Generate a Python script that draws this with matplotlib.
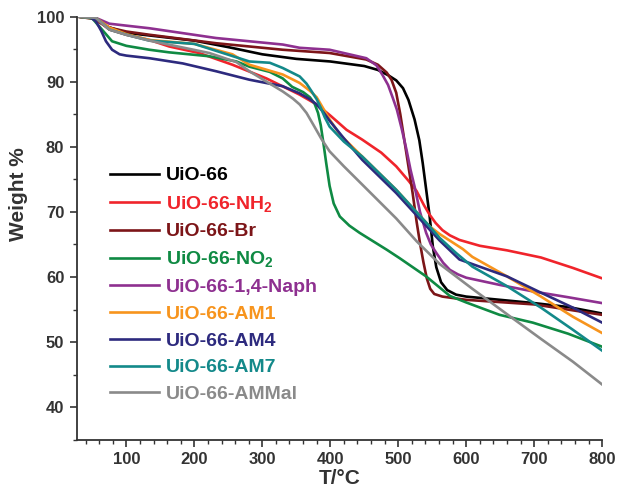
import matplotlib
matplotlib.use("Agg")
import matplotlib.pyplot as plt
from matplotlib.ticker import MultipleLocator

# Temperatures (deg C) and weight (%), one pair per sample
labels = ["UiO-66", "UiO-66-NH$_2$", "UiO-66-Br", "UiO-66-NO$_2$", "UiO-66-1,4-Naph",
          "UiO-66-AM1", "UiO-66-AM4", "UiO-66-AM7", "UiO-66-AMMal"]

t_uio66 = [27, 50, 70, 100, 150, 200, 250, 300, 350, 400, 450, 470, 485, 497, 507, 515,
           524, 531, 536, 541, 546, 551, 556, 563, 572, 585, 600, 650, 700, 750, 800]
w_uio66 = [100, 99.8, 98.5, 97.5, 96.9, 96.3, 95.3, 94.2, 93.5, 93.1, 92.4, 91.8, 91.0,
           90.2, 89.0, 87.2, 84.2, 81.0, 77.5, 73.5, 69.5, 64.6, 61.5, 59.2, 58.0, 57.3,
           57.0, 56.5, 56.0, 55.4, 54.4]

t_nh2 = [27, 55, 75, 100, 134, 163, 207, 256, 306, 355, 380, 400, 424, 447, 475, 497,
         515, 527, 538, 546, 555, 565, 576, 590, 620, 660, 710, 757, 800]
w_nh2 = [100, 99.6, 98.0, 97.2, 96.4, 95.4, 94.4, 92.6, 90.5, 88.0, 86.5, 84.8, 82.6,
         81.1, 79.1, 77.0, 74.8, 73.2, 71.0, 69.6, 68.3, 67.2, 66.4, 65.7, 64.8, 64.1,
         63.0, 61.4, 59.8]

t_br = [27, 55, 75, 100, 134, 232, 330, 399, 453, 470, 483, 490, 497, 503, 509, 515,
        521, 527, 532, 537, 542, 547, 553, 565, 600, 700, 800]
w_br = [100, 99.7, 98.3, 97.7, 97.2, 95.9, 94.9, 94.4, 93.4, 92.6, 91.4, 90.3, 88.3,
        85.0, 81.0, 77.0, 73.0, 68.5, 65.2, 62.3, 59.8, 58.2, 57.4, 57.0, 56.5, 55.8, 54.2]

t_no2 = [27, 50, 79, 100, 134, 163, 222, 262, 281, 311, 330, 344, 360, 370, 377, 382,
         386, 390, 394, 399, 405, 414, 428, 443, 463, 483, 502, 541, 576, 600, 649, 698,
         750, 800]
w_no2 = [100, 99.7, 96.2, 95.5, 94.9, 94.5, 93.9, 93.1, 92.3, 91.5, 90.5, 89.2, 88.4,
         87.6, 86.6, 85.2, 83.3, 80.5, 77.5, 74.0, 71.3, 69.3, 67.9, 66.8, 65.5, 64.2,
         62.9, 60.1, 57.1, 56.1, 54.2, 53.0, 51.3, 49.3]

t_naph = [27, 55, 75, 100, 134, 232, 330, 355, 399, 453, 468, 477, 485, 492, 498, 505,
          512, 518, 524, 532, 541, 548, 556, 566, 576, 588, 600, 649, 698, 750, 800]
w_naph = [100, 99.8, 98.9, 98.6, 98.2, 96.7, 95.7, 95.2, 94.9, 93.6, 92.5, 91.0, 89.5,
          87.5, 85.7, 82.8, 79.6, 76.5, 73.9, 70.0, 66.8, 65.0, 63.7, 62.2, 61.1, 60.4,
          59.9, 58.8, 57.8, 56.9, 56.0]

t_am1 = [27, 55, 75, 100, 134, 200, 256, 281, 330, 355, 370, 380, 389, 399, 414, 447,
         497, 546, 561, 595, 609, 660, 710, 757, 800]
w_am1 = [100, 99.8, 98.3, 97.3, 96.4, 95.8, 94.2, 92.6, 91.1, 89.8, 88.6, 87.6, 86.0,
         84.2, 81.9, 78.5, 73.4, 67.8, 66.6, 64.3, 63.1, 60.1, 57.0, 53.9, 51.4]

t_am4 = [27, 45, 55, 63, 70, 79, 90, 100, 134, 183, 232, 281, 330, 355, 370, 380, 390,
         399, 420, 447, 497, 546, 561, 590, 660, 710, 757, 800]
w_am4 = [100, 100, 99.3, 97.8, 96.2, 94.9, 94.2, 94.0, 93.6, 92.8, 91.6, 90.3, 89.3,
         88.2, 87.3, 86.5, 85.3, 84.0, 81.3, 78.0, 72.9, 67.3, 65.6, 62.7, 60.1, 57.6,
         55.3, 53.0]

t_am7 = [27, 55, 75, 100, 134, 200, 281, 311, 330, 355, 365, 372, 380, 386, 392, 399,
         420, 447, 497, 546, 561, 585, 609, 660, 710, 757, 800]
w_am7 = [100, 99.8, 98.0, 97.2, 96.3, 95.8, 93.1, 92.9, 92.1, 90.8, 89.7, 88.6, 87.3,
         86.0, 84.5, 83.1, 80.8, 78.5, 73.4, 67.8, 66.0, 63.7, 61.6, 58.6, 55.3, 51.9, 48.7]

t_ammal = [27, 55, 75, 100, 134, 222, 262, 281, 330, 345, 355, 365, 375, 387, 399, 420,
           447, 497, 527, 561, 609, 660, 710, 757, 800]
w_ammal = [100, 99.8, 98.0, 97.2, 96.3, 94.4, 93.0, 91.6, 88.5, 87.4, 86.5, 85.2, 83.4,
           81.2, 79.3, 77.0, 74.2, 69.0, 65.5, 62.0, 58.2, 54.3, 50.5, 47.0, 43.5]

temps = [t_uio66, t_nh2, t_br, t_no2, t_naph, t_am1, t_am4, t_am7, t_ammal]
weights = [w_uio66, w_nh2, w_br, w_no2, w_naph, w_am1, w_am4, w_am7, w_ammal]
colors = ["#000000", "#f0242b", "#7c1518", "#0f8a43", "#8e3090",
          "#f7941d", "#2d2a7e", "#13898a", "#8a8a8a"]


def plot_tga(ax):
    """Draw all TGA curves and the legend with coloured labels."""
    for t, w, c, lab in zip(temps, weights, colors, labels):
        ax.plot(t, w, color=c, lw=1.9, label=lab, solid_joinstyle="round")

    leg = ax.legend(loc="upper left", bbox_to_anchor=(0.045, 0.668), frameon=False,
                    handlelength=2.5, handletextpad=0.35, labelspacing=0.47,
                    borderpad=0, labelcolor="linecolor",
                    prop={"family": "Liberation Sans", "weight": "bold", "size": 14})
    for line in leg.get_lines():
        line.set_linewidth(1.9)


def style_axes(ax):
    """Axis limits, ticks and labels like the original figure."""
    ax.set_xlim(27, 800)
    ax.set_ylim(35, 100)
    ax.spines["top"].set_visible(False)
    ax.spines["right"].set_visible(False)
    for s in ("left", "bottom"):
        ax.spines[s].set_linewidth(1.3)
        ax.spines[s].set_color("#333333")

    ax.xaxis.set_major_locator(MultipleLocator(100))
    ax.xaxis.set_minor_locator(MultipleLocator(20))
    ax.yaxis.set_major_locator(MultipleLocator(10))
    ax.yaxis.set_minor_locator(MultipleLocator(5))
    ax.set_xticks(range(100, 801, 100))
    ax.set_yticks(range(40, 101, 10))
    ax.tick_params(which="major", direction="out", length=5, width=1.2,
                   color="#333333", labelsize=12, labelcolor="#333333", pad=4)
    ax.tick_params(which="minor", direction="out", length=3, width=1.0, color="#333333")
    for lab in ax.get_xticklabels() + ax.get_yticklabels():
        lab.set_fontweight("bold")
        lab.set_family("Liberation Sans")

    ax.set_xlabel("T/°C", fontsize=15, fontweight="bold", family="Liberation Sans",
                  color="#333333", labelpad=1)
    ax.set_ylabel("Weight %", fontsize=15, fontweight="bold", family="Liberation Sans",
                  color="#333333")
    ax.yaxis.set_label_coords(-0.092, 0.58)


def main():
    plt.rcParams["mathtext.fontset"] = "custom"
    plt.rcParams["mathtext.rm"] = "Liberation Sans:bold"
    plt.rcParams["mathtext.it"] = "Liberation Sans:bold"
    plt.rcParams["mathtext.bf"] = "Liberation Sans:bold"

    fig = plt.figure(figsize=(6.24, 5.01), dpi=100)
    ax = fig.add_axes([0.123, 0.122, 0.842, 0.845])
    plot_tga(ax)
    style_axes(ax)
    fig.savefig("out.png", dpi=100)


if __name__ == "__main__":
    main()
